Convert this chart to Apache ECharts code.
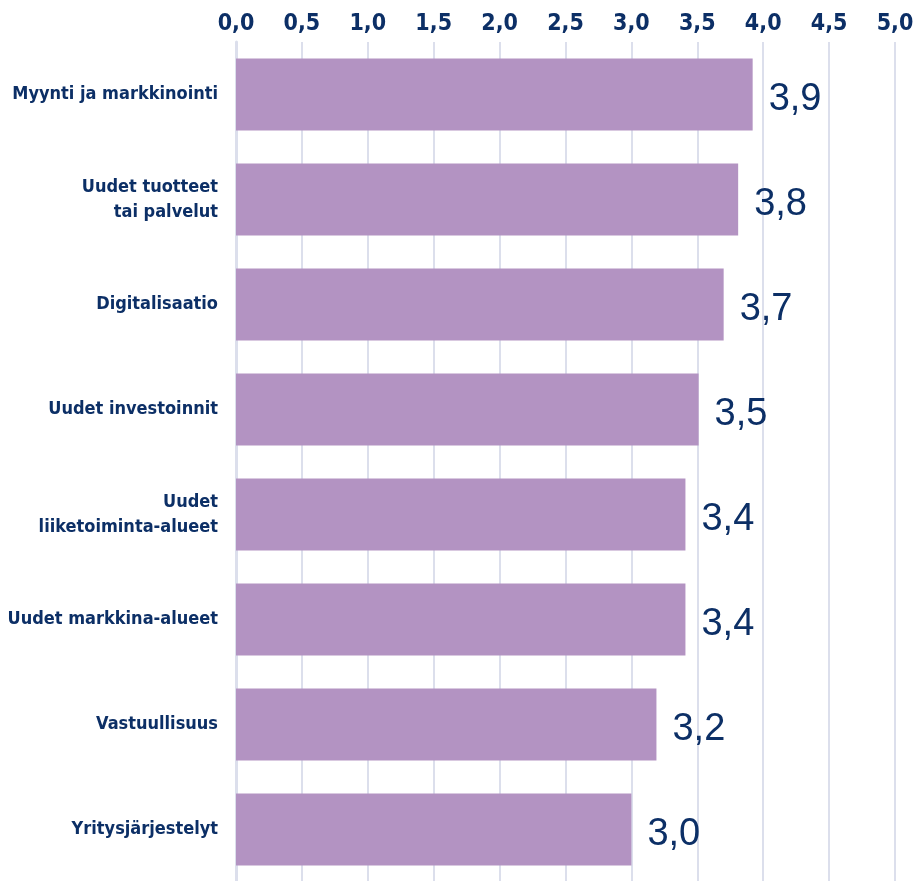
<!DOCTYPE html>
<html>
<head>
<meta charset="utf-8">
<script src="https://cdn.jsdelivr.net/npm/echarts@6/dist/echarts.min.js"></script>
<style>
html,body{margin:0;padding:0;background:#fff;}
#chart{width:924px;height:881px;}
</style>
</head>
<body>
<div id="chart"></div>
<script>
const categories = [
  "Myynti ja markkinointi",
  "Uudet tuotteet\ntai palvelut",
  "Digitalisaatio",
  "Uudet investoinnit",
  "Uudet\nliiketoiminta-alueet",
  "Uudet markkina-alueet",
  "Vastuullisuus",
  "Yritysjärjestelyt"
];
const values = [3.92, 3.81, 3.70, 3.51, 3.41, 3.41, 3.19, 3.00];
const xTicks = [0, 0.5, 1, 1.5, 2, 2.5, 3, 3.5, 4, 4.5, 5];

const navy = '#0c2f66';
const gridColor = '#dcdfec';
const fmt = v => v.toFixed(1).replace('.', ',');

const chart = echarts.init(document.getElementById('chart'), null, {renderer: 'canvas'});
chart.setOption({
  animation: false,
  grid: {left: 236, right: 29, top: 42, height: 840, containLabel: false, outerBoundsMode: 'none'},
  xAxis: {
    type: 'value',
    position: 'top',
    min: xTicks[0],
    max: xTicks[xTicks.length - 1],
    interval: 0.5,
    axisLine: {show: false},
    axisTick: {show: false},
    axisLabel: {
      margin: 6,
      color: navy,
      fontFamily: '"DejaVu Sans Condensed", sans-serif',
      fontWeight: 'bold',
      fontSize: 23,
      formatter: v => fmt(v)
    },
    splitLine: {show: true, lineStyle: {color: gridColor, width: 2}}
  },
  yAxis: {
    type: 'category',
    inverse: true,
    data: categories,
    axisLine: {show: true, lineStyle: {color: gridColor, width: 3}},
    axisTick: {show: false},
    axisLabel: {
      margin: 18,
      color: navy,
      fontFamily: '"DejaVu Sans Condensed", sans-serif',
      fontWeight: 'bold',
      fontSize: 18,
      lineHeight: 25,
      align: 'right'
    }
  },
  series: [{
    type: 'bar',
    data: values,
    barWidth: 72,
    itemStyle: {color: '#b393c2'},
    label: {
      show: true,
      position: 'right',
      distance: 16,
      offset: [0, 5],
      color: navy,
      fontFamily: '"Liberation Sans", Arial, sans-serif',
      fontSize: 38,
      formatter: p => fmt(p.value)
    }
  }]
});
</script>
</body>
</html>
